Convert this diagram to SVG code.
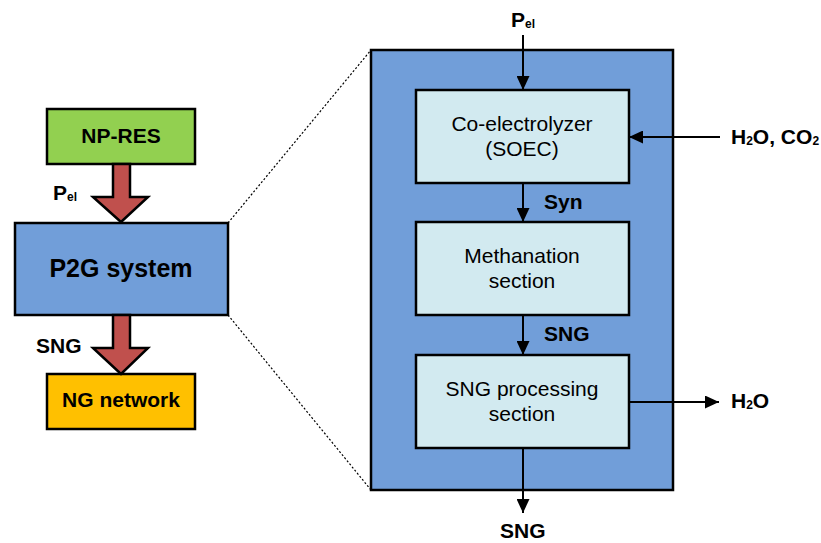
<svg xmlns="http://www.w3.org/2000/svg" width="821" height="543" viewBox="0 0 821 543">
<style>
text{font-family:"Liberation Sans",Arial,sans-serif;fill:#000}
.b{font-weight:bold;font-size:21px}
.n{font-size:21px}
.box{stroke:#000;stroke-width:2.5}
.sub{font-size:12px}
.ln{stroke:#000;stroke-width:2;fill:none}
.dot{stroke:#000;stroke-width:1.2;stroke-dasharray:2,2;fill:none}
.fat{fill:#C0504D;stroke:#000;stroke-width:2.5;stroke-linejoin:miter}
</style>
<defs>
<marker id="ah" markerWidth="14" markerHeight="13" refX="14" refY="6.5" orient="auto" markerUnits="userSpaceOnUse">
<path d="M0,0 L14,6.5 L0,13 Z" fill="#000"/>
</marker>
</defs>
<rect width="821" height="543" fill="#fff"/>
<g id="connectors">
<line class="dot" x1="228" y1="223" x2="371" y2="50"/>
<line class="dot" x1="228" y1="315" x2="371" y2="490"/>
</g>
<g id="p2g-outer">
<rect class="box" x="371" y="50" width="302" height="440" fill="#719ED9"/>
</g>
<g id="np-res">
<rect class="box" x="47" y="109" width="148" height="55" fill="#92D050"/>
<text class="b" x="121" y="143" text-anchor="middle">NP-RES</text>
</g>
<g id="p2g-system">
<rect class="box" x="15" y="223" width="213" height="92" fill="#719ED9"/>
<text x="121" y="277" text-anchor="middle" font-weight="bold" font-size="25">P2G system</text>
</g>
<g id="ng-network">
<rect class="box" x="47" y="374" width="148" height="55" fill="#FFC000"/>
<text class="b" x="121" y="407" text-anchor="middle">NG network</text>
</g>
<g id="co-electrolyzer">
<rect class="box" x="416" y="90" width="213" height="93" fill="#D2EAF0"/>
<text class="n" x="522" y="131" text-anchor="middle">Co-electrolyzer</text>
<text class="n" x="522" y="156" text-anchor="middle">(SOEC)</text>
</g>
<g id="methanation">
<rect class="box" x="416" y="222" width="213" height="93" fill="#D2EAF0"/>
<text class="n" x="522" y="263" text-anchor="middle">Methanation</text>
<text class="n" x="522" y="288" text-anchor="middle">section</text>
</g>
<g id="sng-processing">
<rect class="box" x="416" y="355" width="213" height="93" fill="#D2EAF0"/>
<text class="n" x="522" y="396" text-anchor="middle">SNG processing</text>
<text class="n" x="522" y="421" text-anchor="middle">section</text>
</g>
<g id="flows">
<path class="fat" d="M113,164 H130 V197 H148 L121,222 L93,197 H113 Z"/>
<path class="fat" d="M113,315 H130 V348 H148 L121,374 L93,348 H113 Z"/>
<line class="ln" x1="523" y1="35" x2="523" y2="90" marker-end="url(#ah)"/>
<line class="ln" x1="523" y1="183" x2="523" y2="222" marker-end="url(#ah)"/>
<line class="ln" x1="523" y1="315" x2="523" y2="355" marker-end="url(#ah)"/>
<line class="ln" x1="523" y1="448" x2="523" y2="513" marker-end="url(#ah)"/>
<line class="ln" x1="720" y1="137" x2="629" y2="137" marker-end="url(#ah)"/>
<line class="ln" x1="629" y1="402" x2="719" y2="402" marker-end="url(#ah)"/>
</g>
<g id="labels">
<text class="b" x="53" y="200">P<tspan class="sub" dy="1">el</tspan></text>
<text class="b" x="36" y="353">SNG</text>
<text class="b" x="511" y="27">P<tspan class="sub" dy="1">el</tspan></text>
<text class="b" x="544" y="209">Syn</text>
<text class="b" x="544" y="341">SNG</text>
<text class="b" x="500" y="538">SNG</text>
<text class="b" x="731" y="144">H<tspan class="sub" dy="1">2</tspan><tspan dy="-1">O, CO</tspan><tspan class="sub" dy="1">2</tspan></text>
<text class="b" x="731" y="408">H<tspan class="sub" dy="1">2</tspan><tspan dy="-1">O</tspan></text>
</g>
</svg>
